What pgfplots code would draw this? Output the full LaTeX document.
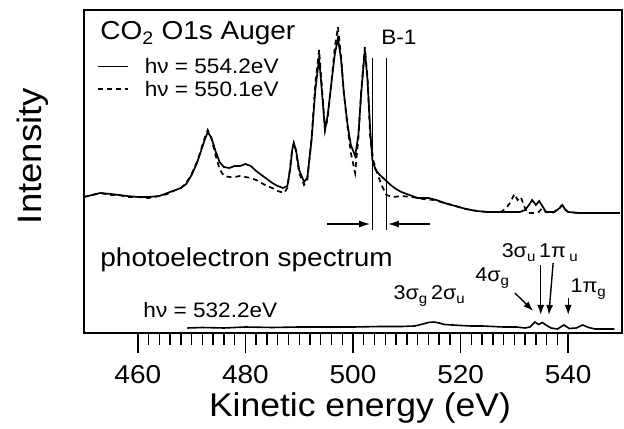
\documentclass[border=0pt]{standalone}
\usepackage{fontspec}
\setmainfont{Liberation Sans}[FakeStretch=1.08]
\usepackage{pgfplots}
\pgfplotsset{compat=1.18}
\usetikzlibrary{arrows.meta}

\newcommand{\sub}[1]{\textsubscript{#1}}
\newcommand{\fs}[1]{\fontsize{#1}{#1}\selectfont}

% O1s Auger spectrum of CO2, two photon energies (intensity in arbitrary units)
\pgfplotstableread{
ke    I
450.0 136
451.5 138
453.0 140
455.0 139
456.5 138
458.0 137
460.0 136
462.0 136
464.0 137
465.5 140
467.0 143
468.0 145
469.0 149
470.0 158
471.0 170
471.5 178
472.3 191
473.0 201
473.7 195
474.5 181
475.2 171
476.0 166
477.0 165
478.0 167
479.0 167
480.0 169
481.0 167
482.0 162
483.0 158
484.0 154
485.0 150
486.0 147
487.0 145
487.8 147
488.3 163
488.7 183
489.0 190
489.4 183
490.0 163
490.9 151
491.5 155
492.3 193
493.0 243
493.7 275
494.2 243
494.8 203
495.3 218
495.9 246
496.6 278
497.2 295
497.8 273
498.3 240
499.0 208
499.6 188
500.4 177
501.0 198
501.5 238
502.2 283
502.7 253
503.2 203
503.6 173
504.2 163
505.0 158
506.0 153
507.0 148
508.0 144
509.0 141
510.5 138
512.0 135
514.0 135
515.5 133
517.0 130
519.0 127
521.0 124
523.0 122
525.0 121
528.0 121
531.0 121
532.0 123
532.7 128
533.3 133
534.0 128
534.6 132
535.3 126
535.9 121
537.5 121
538.4 125
538.9 128
539.5 123
540.0 121
542.0 120
545.0 120
549.6 120
}\augerA

\pgfplotstableread{
ke    I
450.0 136
451.5 138
453.0 140
455.0 138
456.5 138
458.0 136
460.0 136
462.0 135
464.0 137
465.5 139
467.0 143
468.0 145
469.0 150
470.0 159
471.0 171
471.5 179
472.3 193
473.0 203
473.7 194
474.5 177
475.2 164
476.0 157
477.0 156
478.0 156
479.0 157
480.0 156
481.0 155
482.0 153
483.0 150
484.0 147
485.0 145
486.0 142
487.2 140
487.8 145
488.3 165
488.7 184
489.0 190
489.4 182
490.0 160
490.9 148
491.5 153
492.3 195
493.0 250
493.7 283
494.2 248
494.8 203
495.3 215
495.9 246
496.6 285
497.2 306
497.8 275
498.3 240
499.0 205
499.6 180
500.4 160
501.0 195
501.5 240
502.2 286
502.7 255
503.2 195
503.8 172
504.5 160
505.3 148
506.2 138
507.5 136
509.0 137
511.0 136
513.0 134
515.0 133
517.0 130
519.0 127
521.0 124
523.0 122
525.0 121
527.5 121
528.5 125
529.3 131
530.0 139
530.6 133
531.2 136
531.8 127
532.4 120
533.5 120
534.5 121
535.2 125
535.8 121
537.0 120
538.4 125
538.9 128
539.5 123
540.0 121
542.0 120
545.0 120
549.6 120
}\augerB

% valence photoelectron spectrum, h nu = 532.2 eV
\pgfplotstableread{
ke    I
469.2 5
472.0 5.5
476.0 5
480.0 6
485.0 5.5
490.0 6
495.0 6
500.0 6
505.0 6.5
509.0 6.5
511.5 7
513.0 9
514.0 10.5
515.0 11
516.0 10
517.0 8.5
518.5 8
520.0 7.5
522.0 7
524.0 7
526.0 6.5
528.0 6
530.3 6
532.0 5
532.9 6
533.8 11
534.5 8.5
535.2 10.5
536.0 7.5
536.8 5
538.0 4
539.2 8
540.2 4.5
541.5 5
542.7 8
543.8 5.5
545.0 4
548.6 4
}\photo

\begin{document}
\begin{tikzpicture}
\path[use as bounding box] (0,0) rectangle (624bp,429bp);
\begin{axis}[
  at={(84bp,96bp)}, anchor=south west,
  scale only axis, width=538bp, height=323bp,
  xmin=450, xmax=550, ymin=0, ymax=323,
  ytick=\empty,
  xtick={460,480,...,540},
  minor x tick num=9,
  xtick pos=left,
  tick align=outside,
  major tick length=20bp, minor tick length=12bp,
  every tick/.style={black, line width=1.5bp},
  every minor tick/.style={black, line width=1.4bp},
  axis line style={line width=1.3bp},
  /pgf/number format/assume math mode=true,
  xticklabel style={font=\fs{26}, anchor=base, yshift=-30bp, inner sep=0pt},
  xlabel={Kinetic energy (eV)},
  xlabel style={font=\fs{33}, at={(axis description cs:0.513,0)}, anchor=base, yshift=-83bp, inner sep=0pt},
  ylabel={Intensity},
  ylabel style={font=\fs{34}, at={(axis description cs:-0.0781,0.548)}, anchor=base, inner sep=0pt},
  legend style={draw=none, fill=none, at={(axis cs:452.4,275)}, anchor=north west,
    inner sep=0pt, font=\fs{21}, row sep=6bp, column sep=16bp,
    nodes={inner sep=0pt}},
  legend cell align=left,
  legend image code/.code={\draw[#1] (0bp,0bp) -- (30bp,0bp);},
  every node/.append style={inner sep=0pt},
]
\addplot[black, line width=1.7bp] table[x=ke, y=I] {\augerA};
\addlegendentry{hν = 554.2eV}
\addplot[black, line width=1.7bp, dash pattern=on 5bp off 4bp] table[x=ke, y=I] {\augerB};
\addlegendentry{hν = 550.1eV}
\addplot[black, line width=1.6bp, forget plot] table[x=ke, y=I] {\photo};

% titles of the two spectra
\node[anchor=base west, font=\fs{26}] at (axis cs:452.4,293) {CO\sub{2} O1s Auger};
\node[anchor=base west, font=\fs{26}] at (axis cs:452.4,66) {photoelectron spectrum};
\node[anchor=base west, font=\fs{21}] at (axis cs:460.4,15) {hν = 532.2eV};

% B-1 marker
\node[anchor=base west, font=\fs{21}] at (axis cs:504.6,288) {B-1};
\draw[line width=1bp] (axis cs:503.7,275) -- (axis cs:503.7,103);
\draw[line width=1bp] (axis cs:506.3,275) -- (axis cs:506.3,103);
\draw[line width=1.4bp, -{Latex[length=11bp,width=7bp]}] (axis cs:495.2,109) -- (axis cs:503.2,109);
\draw[line width=1.4bp, -{Latex[length=11bp,width=7bp]}] (axis cs:514.3,109) -- (axis cs:506.5,109);

% orbital assignments
\node[anchor=base west, font=\fs{20}] at (axis cs:506.9,33) {3σ\sub{g}\,2σ\sub{u}};
\node[anchor=base west, font=\fs{20}] at (axis cs:522.1,51) {4σ\sub{g}};
\node[anchor=base west, font=\fs{20}] at (axis cs:527.0,75) {3σ\sub{u}\,1π\,\sub{u}};
\node[anchor=base west, font=\fs{20}] at (axis cs:539.8,40) {1π\sub{g}};
\draw[line width=1.4bp, -{Latex[length=10bp,width=7bp]}] (axis cs:530.1,40) -- (axis cs:533.5,22);
\draw[line width=1.4bp, -{Latex[length=10bp,width=7bp]}] (axis cs:534.9,68) -- (axis cs:534.9,18);
\draw[line width=1.4bp, -{Latex[length=10bp,width=7bp]}] (axis cs:537.2,70) -- (axis cs:536.4,18);
\draw[line width=1.4bp, -{Latex[length=10bp,width=7bp]}] (axis cs:540.0,35) -- (axis cs:540.0,18);
\end{axis}
\end{tikzpicture}
\end{document}
